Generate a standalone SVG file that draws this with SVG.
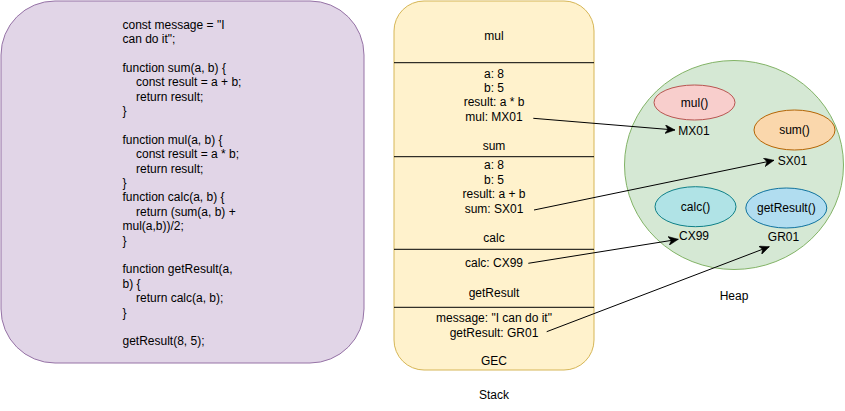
<svg xmlns="http://www.w3.org/2000/svg" width="845" height="411" viewBox="0 0 845 411">
  <style>
    text { font-family: "Liberation Sans", Arial, Helvetica, sans-serif; font-size: 12px; fill: #000000; }
    .c { text-anchor: middle; }
    .sep { stroke: #000000; stroke-width: 1; }
    .conn { stroke: #000000; stroke-width: 1; fill: none; marker-end: url(#arrow); }
  </style>
  <defs>
    <marker id="arrow" markerUnits="userSpaceOnUse" markerWidth="11" markerHeight="9" refX="10" refY="4.5" orient="auto">
      <path d="M0,0 L10,4.5 L0,9 L2.8,4.5 Z" fill="#000000" stroke="#000000" stroke-width="0.5"/>
    </marker>
  </defs>
  <rect width="845" height="411" fill="#ffffff"/>

  <g id="code">
    <rect x="1" y="1" width="363" height="362" rx="54" ry="54" fill="#e1d5e7" stroke="#9673a6"/>
    <text x="122.5" y="28.5">const message = "I</text>
    <text x="122.5" y="42.9">can do it";</text>
    <text x="122.5" y="71.7">function sum(a, b) {</text>
    <text x="136" y="86.1">const result = a + b;</text>
    <text x="136" y="100.5">return result;</text>
    <text x="122.5" y="114.9">}</text>
    <text x="122.5" y="143.7">function mul(a, b) {</text>
    <text x="136" y="158.1">const result = a * b;</text>
    <text x="136" y="172.5">return result;</text>
    <text x="122.5" y="186.9">}</text>
    <text x="122.5" y="201.3">function calc(a, b) {</text>
    <text x="136" y="215.7">return (sum(a, b) +</text>
    <text x="122.5" y="230.1">mul(a,b))/2;</text>
    <text x="122.5" y="244.5">}</text>
    <text x="122.5" y="273.3">function getResult(a,</text>
    <text x="122.5" y="287.7">b) {</text>
    <text x="136" y="302.1">return calc(a, b);</text>
    <text x="122.5" y="316.5">}</text>
    <text x="122.5" y="345.3">getResult(8, 5);</text>
  </g>

  <g id="stack">
    <rect x="394" y="1" width="200" height="369" rx="30" ry="30" fill="#fff2cc" stroke="#d6b656"/>
    <line class="sep" x1="394" y1="62.7" x2="594" y2="62.7"/>
    <line class="sep" x1="394" y1="156.7" x2="594" y2="156.7"/>
    <line class="sep" x1="394" y1="249.3" x2="594" y2="249.3"/>
    <line class="sep" x1="394" y1="307.3" x2="594" y2="307.3"/>
    <text class="c" x="494" y="40">mul</text>
    <text class="c" x="494" y="77.6">a: 8</text>
    <text class="c" x="494" y="92">b: 5</text>
    <text class="c" x="494" y="106.4">result: a * b</text>
    <text class="c" x="494" y="120.8">mul: MX01</text>
    <text class="c" x="494" y="150.3">sum</text>
    <text class="c" x="494" y="169.4">a: 8</text>
    <text class="c" x="494" y="183.8">b: 5</text>
    <text class="c" x="494" y="198.2">result: a + b</text>
    <text class="c" x="494" y="212.6">sum: SX01</text>
    <text class="c" x="494" y="242">calc</text>
    <text class="c" x="494" y="267">calc: CX99</text>
    <text class="c" x="494" y="297">getResult</text>
    <text class="c" x="494" y="322">message: "I can do it"</text>
    <text class="c" x="494" y="336.6">getResult: GR01</text>
    <text class="c" x="494" y="365">GEC</text>
    <text class="c" x="494" y="399.3">Stack</text>
  </g>

  <g id="heap">
    <ellipse cx="734" cy="165" rx="109.5" ry="104.5" fill="#d5e8d4" stroke="#82b366"/>
    <text class="c" x="734" y="300.3">Heap</text>
  </g>

  <g id="mul-fn">
    <ellipse cx="694.5" cy="102.5" rx="40.5" ry="17.5" fill="#f8cecc" stroke="#b85450"/>
    <text class="c" x="694.5" y="106.8">mul()</text>
    <text class="c" x="694" y="135">MX01</text>
  </g>

  <g id="sum-fn">
    <ellipse cx="794.5" cy="130" rx="40.5" ry="20" fill="#fad7ac" stroke="#b46504"/>
    <text class="c" x="794.5" y="134.3">sum()</text>
    <text class="c" x="792.5" y="165.3">SX01</text>
  </g>

  <g id="calc-fn">
    <ellipse cx="695.5" cy="206.7" rx="40.5" ry="20" fill="#b0e3e6" stroke="#0e8088"/>
    <text class="c" x="695.5" y="211">calc()</text>
    <text class="c" x="694" y="240.3">CX99</text>
  </g>

  <g id="getresult-fn">
    <ellipse cx="786.3" cy="208" rx="40.5" ry="20" fill="#b1ddf0" stroke="#10739e"/>
    <text class="c" x="786.3" y="212.3">getResult()</text>
    <text class="c" x="783.5" y="241">GR01</text>
  </g>

  <g id="connectors">
    <line class="conn" x1="533.3" y1="118.3" x2="675" y2="130"/>
    <line class="conn" x1="534" y1="210" x2="774" y2="160.3"/>
    <line class="conn" x1="528.3" y1="263.3" x2="678.3" y2="239.3"/>
    <line class="conn" x1="546.7" y1="331.7" x2="769.3" y2="246.7"/>
  </g>
</svg>
